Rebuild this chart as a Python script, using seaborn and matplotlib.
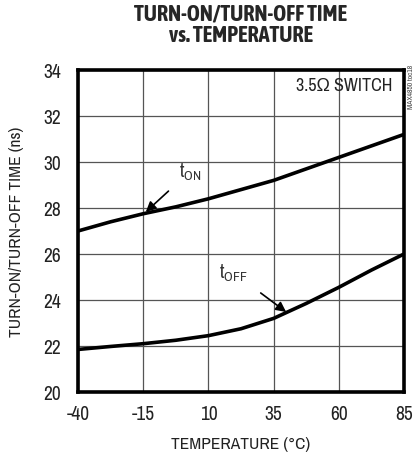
import matplotlib
matplotlib.use("Agg")
import matplotlib.pyplot as plt
from matplotlib import font_manager
import seaborn as sns
import pandas as pd

temps = [-40, -27.5, -15, -2.5, 10, 22.5, 35, 47.5, 60, 72.5, 85]
t_on = [27.0, 27.4, 27.75, 28.05, 28.4, 28.8, 29.2, 29.7, 30.2, 30.7, 31.2]
t_off = [21.85, 21.98, 22.1, 22.25, 22.45, 22.75, 23.2, 23.85, 24.55, 25.3, 26.0]
x_ticks = [-40, -15, 10, 35, 60, 85]
y_ticks = [20, 22, 24, 26, 28, 30, 32, 34]

sns.set_theme(style="white")


def wnum(w):
    if isinstance(w, str):
        return font_manager.weight_dict.get(w, 400)
    return w


fonts = font_manager.fontManager.ttflist
narrow = sorted({f.name for f in fonts if "Narrow" in f.name or "Condensed" in f.name})
narrow_bold = sorted({f.name for f in fonts
                      if ("Narrow" in f.name or "Condensed" in f.name) and wnum(f.weight) >= 700})
FONT = (narrow[:1] if narrow else []) + ["Liberation Sans", "DejaVu Sans"]
TFONT = (narrow_bold[:1] if narrow_bold else []) + FONT
plt.rcParams["font.family"] = FONT

k = 1.0 if narrow else 0.85

df = pd.DataFrame({
    "temp": temps * 2,
    "time": t_on + t_off,
    "series": ["tON"] * len(temps) + ["tOFF"] * len(temps),
})

fig = plt.figure(figsize=(4.14, 4.56), dpi=100)
ax = fig.add_axes([78 / 414, 63 / 456, 326 / 414, 322 / 456])
sns.lineplot(data=df, x="temp", y="time", hue="series",
             palette={"tON": "black", "tOFF": "black"},
             linewidth=2.6, legend=False, ax=ax)

ax.set_xlim(-40, 85)
ax.set_ylim(20, 34)
ax.set_xticks(x_ticks)
ax.set_yticks(y_ticks)
ax.set_xticklabels([str(v) for v in x_ticks])
ax.set_yticklabels([str(v) for v in y_ticks])
ax.tick_params(axis="y", length=0, pad=12, labelsize=14 * k, colors="#222222")
ax.tick_params(axis="x", length=0, pad=9, labelsize=14 * k, colors="#222222")
ax.grid(True, color="#555555", linewidth=0.9)
for s in ax.spines.values():
    s.set_color("black")
    s.set_linewidth(2.6)

ax.set_xlabel("TEMPERATURE (°C)", fontsize=12.5 * k, color="#222222", labelpad=9)
ax.set_ylabel("TURN-ON/TURN-OFF TIME (ns)", fontsize=12.5 * k, color="#222222", labelpad=14)

fig.text(241 / 414, 1 - 25 / 456, "TURN-ON/TURN-OFF TIME\nvs. TEMPERATURE", ha="center",
         va="center", fontsize=16 * k, fontweight="bold", linespacing=0.95, family=TFONT)

ax.text(80.4, 33.35, "3.5Ω SWITCH", ha="right", va="center", fontsize=13 * k, color="#222222")
fig.text(0.992, 0.81, "MAX4850 toc18", rotation=90, ha="center", va="center",
         fontsize=5.5, color="#444444")

ax.annotate("t$_{\\mathregular{ON}}$", xy=(-14.0, 27.83), xytext=(3.0, 29.6),
            ha="center", va="center", fontsize=14 * k, color="#333333",
            arrowprops=dict(arrowstyle="-|>", color="black", lw=1.2,
                            mutation_scale=15, shrinkA=7, shrinkB=0))
ax.annotate("t$_{\\mathregular{OFF}}$", xy=(39.8, 23.48), xytext=(19.5, 25.2),
            ha="center", va="center", fontsize=14 * k, color="#333333",
            arrowprops=dict(arrowstyle="-|>", color="black", lw=1.2,
                            mutation_scale=15, shrinkA=9, shrinkB=0))

fig.savefig("out.png", dpi=100)
